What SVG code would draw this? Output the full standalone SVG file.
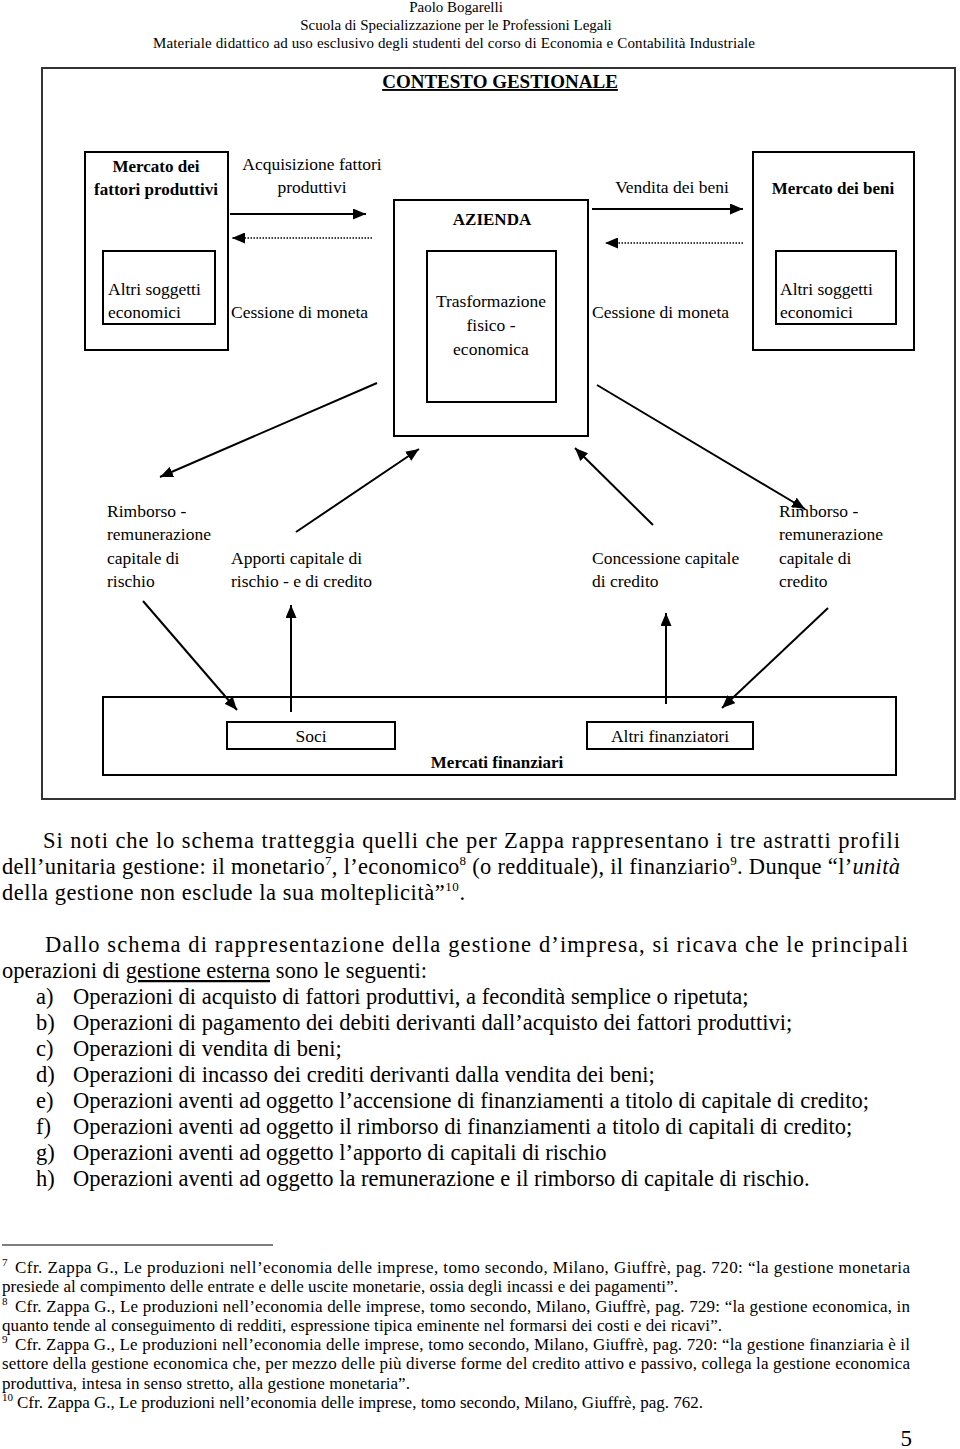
<svg xmlns="http://www.w3.org/2000/svg" width="960" height="1449" viewBox="0 0 960 1449">
<style>
text { font-family: "Liberation Serif", "Times New Roman", serif; fill: #000; }
.hdr { font-size: 15px; }
.lbl { font-size: 17.5px; }
.b { font-weight: bold; font-size: 17px; }
.title { font-weight: bold; font-size: 19px; text-decoration: underline; }
.body { font-size: 22.5px; }
.fn { font-size: 17px; }
.sup { font-size: 13px; }
.fsup { font-size: 11px; }
.box { fill: none; stroke: #000; stroke-width: 2; }
.frame { fill: none; stroke: #333; stroke-width: 2; }
.arr { stroke: #000; stroke-width: 2; fill: none; marker-end: url(#ah); }
.dot { stroke: #000; stroke-width: 1.5; stroke-dasharray: 1.5 1.5; fill: none; marker-end: url(#ah); }
</style>
<defs>
<marker id="ah" markerUnits="userSpaceOnUse" markerWidth="13" markerHeight="11" refX="13" refY="5.5" orient="auto">
<path d="M0,0 L13,5.5 L0,11 z" fill="#000"/>
</marker>
</defs>
<rect width="960" height="1449" fill="#fff"/>

<g id="header">
<text class="hdr" x="456" y="12" text-anchor="middle">Paolo Bogarelli</text>
<text class="hdr" x="456" y="30" text-anchor="middle">Scuola di Specializzazione per le Professioni Legali</text>
<text class="hdr" x="454" y="48" text-anchor="middle" textLength="602" lengthAdjust="spacing">Materiale didattico ad uso esclusivo degli studenti del corso di Economia e Contabilità Industriale</text>
</g>

<g id="frame">
<rect class="frame" x="42" y="68" width="913" height="731"/>
<text class="title" x="500" y="88" text-anchor="middle">CONTESTO GESTIONALE</text>
</g>

<g id="mercato-fattori">
<rect class="box" x="85" y="152" width="143" height="198"/>
<text class="b" x="156" y="172" text-anchor="middle">Mercato dei</text>
<text class="b" x="156" y="195" text-anchor="middle">fattori produttivi</text>
</g>
<g id="altri-soggetti-sx">
<rect class="box" x="103" y="251" width="112" height="73"/>
<text class="lbl" x="108" y="295">Altri soggetti</text>
<text class="lbl" x="108" y="318">economici</text>
</g>

<g id="azienda">
<rect class="box" x="394" y="200" width="194" height="236"/>
<text class="b" x="492" y="225" text-anchor="middle">AZIENDA</text>
</g>
<g id="trasformazione">
<rect class="box" x="427" y="251" width="129" height="151"/>
<text class="lbl" x="491" y="307" text-anchor="middle">Trasformazione</text>
<text class="lbl" x="491" y="331" text-anchor="middle">fisico -</text>
<text class="lbl" x="491" y="355" text-anchor="middle">economica</text>
</g>

<g id="mercato-beni">
<rect class="box" x="753" y="152" width="161" height="198"/>
<text class="b" x="833" y="194" text-anchor="middle">Mercato dei beni</text>
</g>
<g id="altri-soggetti-dx">
<rect class="box" x="776" y="251" width="120" height="73"/>
<text class="lbl" x="780" y="295">Altri soggetti</text>
<text class="lbl" x="780" y="318">economici</text>
</g>

<g id="mercati-finanziari">
<rect class="box" x="103" y="697" width="793" height="78"/>
<text class="b" x="497" y="768" text-anchor="middle">Mercati finanziari</text>
</g>
<g id="soci">
<rect class="box" x="227" y="722" width="168" height="27"/>
<text class="lbl" x="311" y="742" text-anchor="middle">Soci</text>
</g>
<g id="altri-finanziatori">
<rect class="box" x="587" y="722" width="166" height="27"/>
<text class="lbl" x="670" y="742" text-anchor="middle">Altri finanziatori</text>
</g>

<g id="connectors">
<line class="arr" x1="230" y1="214" x2="366" y2="214"/>
<line class="dot" x1="372" y1="238" x2="232" y2="238"/>
<line class="arr" x1="592" y1="209" x2="743" y2="209"/>
<line class="dot" x1="743" y1="243" x2="605" y2="243"/>
<line class="arr" x1="377" y1="383" x2="160" y2="477"/>
<line class="arr" x1="296" y1="532" x2="419" y2="449"/>
<line class="arr" x1="143" y1="601" x2="237" y2="710"/>
<line class="arr" x1="291" y1="712" x2="291" y2="605"/>
<line class="arr" x1="597" y1="385" x2="805" y2="509"/>
<line class="arr" x1="653" y1="525" x2="575" y2="448"/>
<line class="arr" x1="666" y1="704" x2="666" y2="613"/>
<line class="arr" x1="828" y1="608" x2="722" y2="708"/>
</g>

<g id="connector-labels">
<text class="lbl" x="312" y="170" text-anchor="middle">Acquisizione fattori</text>
<text class="lbl" x="312" y="193" text-anchor="middle">produttivi</text>
<text class="lbl" x="231" y="318">Cessione di moneta</text>
<text class="lbl" x="672" y="193" text-anchor="middle">Vendita dei beni</text>
<text class="lbl" x="592" y="318">Cessione di moneta</text>
<text class="lbl" x="107" y="517">Rimborso -</text>
<text class="lbl" x="107" y="540">remunerazione</text>
<text class="lbl" x="107" y="564">capitale di</text>
<text class="lbl" x="107" y="587">rischio</text>
<text class="lbl" x="231" y="564">Apporti capitale di</text>
<text class="lbl" x="231" y="587">rischio - e di credito</text>
<text class="lbl" x="592" y="564">Concessione capitale</text>
<text class="lbl" x="592" y="587">di credito</text>
<text class="lbl" x="779" y="517">Rimborso -</text>
<text class="lbl" x="779" y="540">remunerazione</text>
<text class="lbl" x="779" y="564">capitale di</text>
<text class="lbl" x="779" y="587">credito</text>
</g>

<g id="testo">
<text class="body" x="43" y="848" textLength="857" lengthAdjust="spacing">Si noti che lo schema tratteggia quelli che per Zappa  rappresentano i tre astratti profili</text>
<text class="body" x="2" y="874" textLength="898" lengthAdjust="spacing">dell’unitaria gestione: il monetario<tspan class="sup" dy="-9">7</tspan><tspan dy="9">, l’economico</tspan><tspan class="sup" dy="-9">8</tspan><tspan dy="9"> (o reddituale), il finanziario</tspan><tspan class="sup" dy="-9">9</tspan><tspan dy="9">. Dunque “l’</tspan><tspan font-style="italic">unità</tspan></text>
<text class="body" x="2" y="900" textLength="463" lengthAdjust="spacing">della gestione non esclude la sua molteplicità”<tspan class="sup" dy="-9">10</tspan><tspan dy="9">.</tspan></text>

<text class="body" x="45" y="952" textLength="863" lengthAdjust="spacing">Dallo schema di rappresentazione della gestione d’impresa, si ricava che le principali</text>
<text class="body" x="2" y="978">operazioni di <tspan text-decoration="underline">gestione esterna</tspan> sono le seguenti:</text>

<text class="body" x="36" y="1004">a)</text>
<text class="body" x="73" y="1004">Operazioni di acquisto di fattori produttivi, a fecondità semplice o ripetuta;</text>
<text class="body" x="36" y="1030">b)</text>
<text class="body" x="73" y="1030">Operazioni di pagamento dei debiti derivanti dall’acquisto dei fattori produttivi;</text>
<text class="body" x="36" y="1056">c)</text>
<text class="body" x="73" y="1056">Operazioni di vendita di beni;</text>
<text class="body" x="36" y="1082">d)</text>
<text class="body" x="73" y="1082">Operazioni di incasso dei crediti derivanti dalla vendita dei beni;</text>
<text class="body" x="36" y="1108">e)</text>
<text class="body" x="73" y="1108">Operazioni aventi ad oggetto l’accensione di finanziamenti a titolo di capitale di credito;</text>
<text class="body" x="36" y="1134">f)</text>
<text class="body" x="73" y="1134">Operazioni aventi ad oggetto il rimborso di finanziamenti a titolo di capitali di credito;</text>
<text class="body" x="36" y="1160">g)</text>
<text class="body" x="73" y="1160">Operazioni aventi ad oggetto l’apporto di capitali di rischio</text>
<text class="body" x="36" y="1186">h)</text>
<text class="body" x="73" y="1186">Operazioni aventi ad oggetto la remunerazione e il rimborso di capitale di rischio.</text>
</g>

<g id="note">
<line x1="2" y1="1245" x2="273" y2="1245" stroke="#000" stroke-width="1.2"/>
<text class="fsup" x="2" y="1266">7</text>
<text class="fn" x="15" y="1273" textLength="895" lengthAdjust="spacing">Cfr. Zappa G., Le produzioni nell’economia delle imprese, tomo secondo, Milano, Giuffrè, pag. 720: “la gestione monetaria</text>
<text class="fn" x="2" y="1292" textLength="676" lengthAdjust="spacing">presiede al compimento delle entrate e delle uscite monetarie, ossia degli incassi e dei pagamenti”.</text>
<text class="fsup" x="2" y="1305">8</text>
<text class="fn" x="15" y="1312" textLength="895" lengthAdjust="spacing">Cfr. Zappa G., Le produzioni nell’economia delle imprese, tomo secondo, Milano, Giuffrè, pag. 729: “la gestione economica, in</text>
<text class="fn" x="2" y="1331" textLength="720" lengthAdjust="spacing">quanto tende al conseguimento di redditi, espressione tipica eminente nel formarsi dei costi e dei ricavi”.</text>
<text class="fsup" x="2" y="1343">9</text>
<text class="fn" x="15" y="1350" textLength="895" lengthAdjust="spacing">Cfr. Zappa G., Le produzioni nell’economia delle imprese, tomo secondo, Milano, Giuffrè, pag. 720: “la gestione finanziaria è il</text>
<text class="fn" x="2" y="1369" textLength="908" lengthAdjust="spacing">settore della gestione economica che, per mezzo delle più diverse forme del credito attivo e passivo, collega la gestione economica</text>
<text class="fn" x="2" y="1389" textLength="408" lengthAdjust="spacing">produttiva, intesa in senso stretto, alla gestione monetaria”.</text>
<text class="fsup" x="2" y="1401">10</text>
<text class="fn" x="17" y="1408" textLength="686" lengthAdjust="spacing">Cfr. Zappa G., Le produzioni nell’economia delle imprese, tomo secondo, Milano, Giuffrè, pag. 762.</text>
</g>

<g id="pagina">
<text x="912" y="1446" text-anchor="end" font-size="23">5</text>
</g>
</svg>
